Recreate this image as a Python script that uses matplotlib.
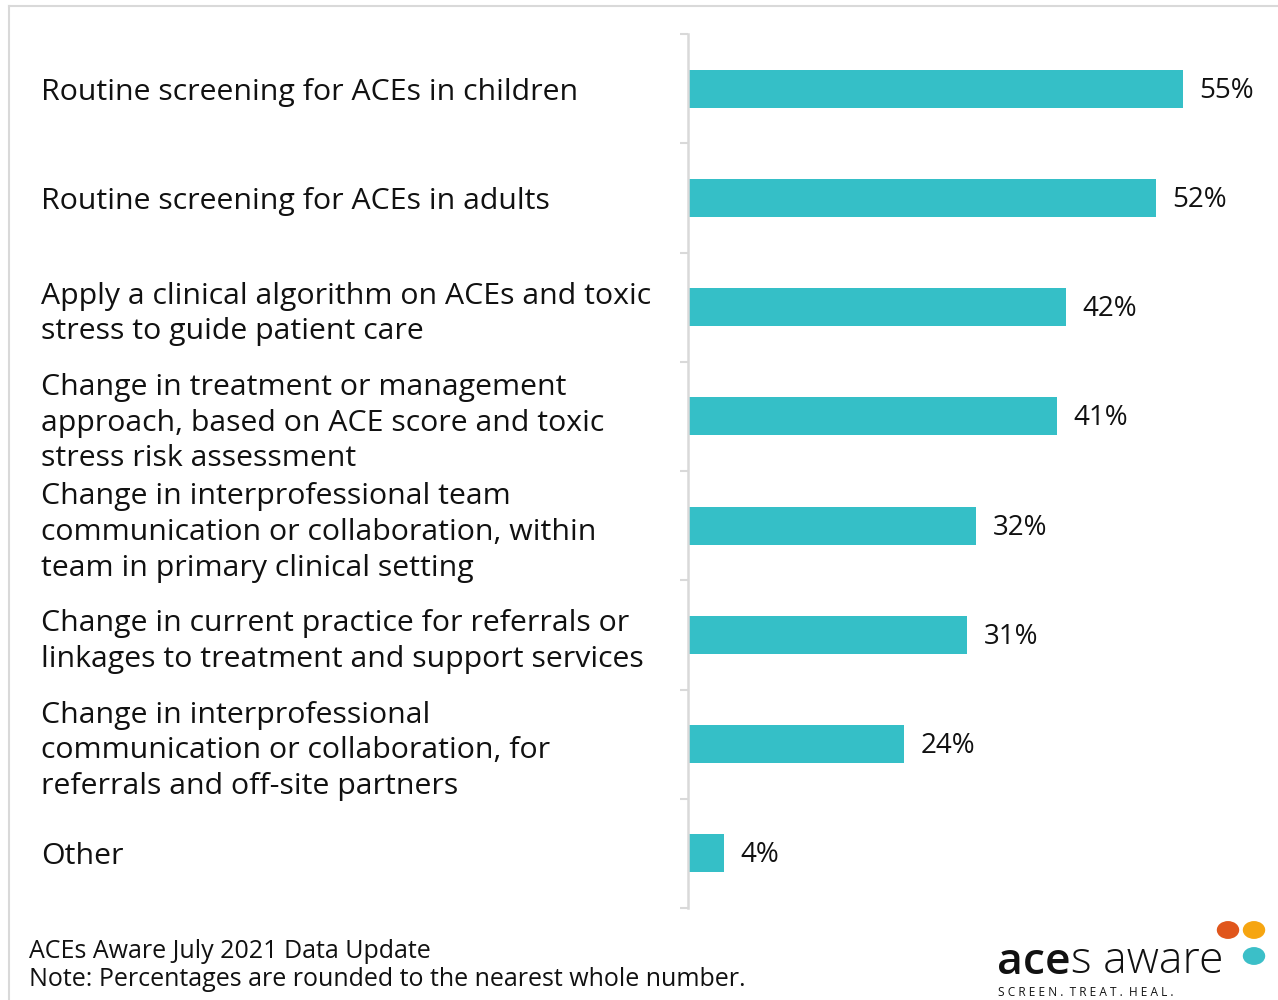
import matplotlib.pyplot as plt
from matplotlib.lines import Line2D
from matplotlib.patches import Circle
import numpy as np

plt.rcParams['font.family'] = ['Open Sans', 'DejaVu Sans']

categories = [
    'Routine screening for ACEs in children',
    'Routine screening for ACEs in adults',
    'Apply a clinical algorithm on ACEs and toxic\nstress to guide patient care',
    'Change in treatment or management\napproach, based on ACE score and toxic\nstress risk assessment',
    'Change in interprofessional team\ncommunication or collaboration, within\nteam in primary clinical setting',
    'Change in current practice for referrals or\nlinkages to treatment and support services',
    'Change in interprofessional\ncommunication or collaboration, for\nreferrals and off-site partners',
    'Other',
]
values = [55, 52, 42, 41, 32, 31, 24, 4]
value_labels = ['55%', '52%', '42%', '41%', '32%', '31%', '24%', '4%']

footer_lines = ['ACEs Aware July 2021 Data Update',
                'Note: Percentages are rounded to the nearest whole number.']

bar_color = '#35bfc7'
grid_gray = '#d9d9d9'
W, H = 1278, 1000

fig = plt.figure(figsize=(12.78, 10), dpi=100)
ax = fig.add_axes([688 / W, 0.092, 1 - 688 / W, 0.874])

n = len(categories)
y = np.arange(n)
ax.barh(y, values, height=0.35, color=bar_color)
ax.set_xlim(0, 590 / 9)
ax.set_ylim(n - 0.5, -0.5)

for yi, v, lab in zip(y, values, value_labels):
    ax.annotate(lab, (v, yi), xytext=(12, -1.5), textcoords='offset points',
                va='center', ha='left', fontsize=20, color='#111111')

# category names sit flush-left near the figure edge
ax.set_yticks(y)
ax.set_yticklabels(categories, fontsize=21.8, color='#111111', linespacing=1.3)
ax.tick_params(axis='y', which='major', length=0, pad=466)
for t in ax.get_yticklabels():
    t.set_horizontalalignment('left')

ax.set_yticks(np.arange(n + 1) - 0.5, minor=True)
ax.tick_params(axis='y', which='minor', length=6, width=1.5, color=grid_gray)
ax.set_xticks([])

for s in ['top', 'right', 'bottom']:
    ax.spines[s].set_visible(False)
ax.spines['left'].set_color(grid_gray)
ax.spines['left'].set_linewidth(1.8)

# thin slide frame
fig.add_artist(Line2D([9 / W, 1], [1 - 6 / H] * 2, color=grid_gray, lw=1.5))
fig.add_artist(Line2D([9 / W] * 2, [0, 1 - 6 / H], color=grid_gray, lw=1.5))

fig.text(29 / W, 1 - 951 / H, footer_lines[0], fontsize=18, va='center', color='#111111')
fig.text(29 / W, 1 - 980 / H, footer_lines[1], fontsize=18, va='center', color='#111111')

# logo
r = fig.canvas.get_renderer()
t1 = fig.text(997 / W, 1 - 962 / H, 'ace', fontsize=32, fontweight='semibold',
              va='center', ha='left', color='#111111')
x_end = t1.get_window_extent(r).x1
fig.text(x_end / W, 1 - 962 / H, 's aware', fontsize=32, fontweight='light',
         va='center', ha='left', color='#111111')
fig.text(998 / W, 1 - 992 / H, 'S C R E E N .  T R E A T .  H E A L .', fontsize=8.6,
         va='center', ha='left', color='#111111')
for cx, cy, c in [(1228, 930, '#e0561c'), (1254, 930, '#f6a511'), (1254, 956, '#3bbfc8')]:
    fig.add_artist(Circle((cx / W, 1 - cy / H), 10.5 / W, color=c,
                          transform=fig.transFigure))

fig.savefig('out.png', dpi=100)
